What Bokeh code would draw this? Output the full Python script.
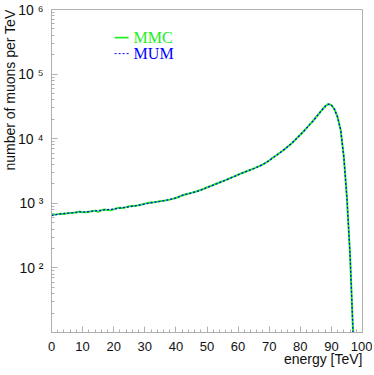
import math
from bokeh.plotting import figure
from bokeh.models import Label, FixedTicker, Title
from bokeh.embed import file_html
from bokeh.resources import INLINE

energy = list(range(0, 98))

mmc = [650, 668, 680, 690, 684, 700, 706, 712, 722, 748,
       726, 728, 738, 752, 770, 738, 782, 800, 788, 778,
       806, 842, 852, 846, 872, 900, 908, 912, 936, 960,
       988, 1012, 1030, 1042, 1060, 1085, 1098, 1115, 1140, 1170,
       1210, 1260, 1320, 1370, 1410, 1450, 1500, 1550, 1610, 1680,
       1760, 1840, 1920, 2010, 2100, 2190, 2290, 2400, 2520, 2640,
       2770, 2900, 3030, 3160, 3300, 3450, 3620, 3800, 4020, 4280,
       4600, 5000, 5400, 5850, 6350, 6900, 7550, 8300, 9200, 10300,
       11500, 12900, 14600, 16500, 18600, 21300, 24500, 28000, 31800, 34300,
       33200, 28500, 21500, 13500, 5200, 1200, 160, 9]

mum = [645, 660, 675, 688, 695, 698, 710, 718, 728, 735,
       730, 735, 745, 755, 762, 770, 778, 790, 800, 805,
       815, 830, 845, 858, 868, 885, 900, 918, 932, 950,
       975, 1000, 1020, 1040, 1058, 1075, 1095, 1118, 1145, 1175,
       1215, 1265, 1325, 1375, 1415, 1445, 1495, 1545, 1605, 1675,
       1755, 1835, 1915, 2005, 2095, 2185, 2285, 2395, 2515, 2635,
       2765, 2895, 3025, 3155, 3295, 3445, 3615, 3795, 4015, 4275,
       4595, 4995, 5395, 5845, 6345, 6895, 7545, 8295, 9195, 10295,
       11495, 12895, 14595, 16495, 18595, 21295, 24495, 27995, 31795, 34295,
       33195, 28495, 21495, 13495, 5195, 1195, 160, 9]

x_ticks = [0, 10, 20, 30, 40, 50, 60, 70, 80, 90, 100]
y_ticks = [10, 100, 1000, 10000, 100000, 1000000]
y_tick_labels = ["", "10 \u00b2", "10 \u00b3", "10 \u2074", "10 \u2075", "10 \u2076"]

GRAY = "#b0b0b0"
GREEN = "#22ee22"
BLUE = "#0000ff"

p = figure(width=372, height=372, x_range=(0, 100), y_range=(10, 1e6),
           y_axis_type="log", output_backend="svg", toolbar_location=None,
           min_border_left=51, min_border_right=10, min_border_top=9,
           min_border_bottom=40)
p.grid.visible = False
p.outline_line_color = GRAY
p.background_fill_color = "white"

p.line(energy, mmc, line_color=GREEN, line_width=2.0)
p.line(energy, mum, line_color=BLUE, line_width=1.3, line_dash="2 2")

xa = p.xaxis[0]
xa.ticker = FixedTicker(ticks=x_ticks, minor_ticks=list(range(0, 101, 2)))
xa.axis_line_color = GRAY
xa.major_tick_line_color = GRAY
xa.minor_tick_line_color = GRAY
xa.major_tick_in = 6
xa.major_tick_out = 0
xa.minor_tick_in = 3
xa.minor_tick_out = 0
xa.major_label_standoff = 9
xa.major_label_text_font = "Liberation Sans"
xa.major_label_text_font_size = "13px"
xa.major_label_text_color = "#111111"

ya = p.yaxis[0]
ya.axis_line_color = GRAY
ya.major_tick_line_color = GRAY
ya.minor_tick_line_color = GRAY
ya.major_tick_in = 6
ya.major_tick_out = 0
ya.minor_tick_in = 3
ya.minor_tick_out = 0
ya.major_label_standoff = 8
ya.major_label_text_font = "Liberation Sans"
ya.major_label_text_font_size = "14px"
ya.major_label_text_color = "#111111"
ya.major_label_overrides = {t: s for t, s in zip(y_ticks, y_tick_labels)}

# axis titles (right/top aligned as in the reference)
p.add_layout(Title(text="energy [TeV]", align="right", standoff=-9, offset=0,
                   text_font="Liberation Sans", text_font_size="14px",
                   text_font_style="normal", text_color="#111111"), "below")
p.add_layout(Title(text="number of muons per TeV", align="right", standoff=-4,
                   offset=0, text_font="Liberation Sans",
                   text_font_size="14px", text_font_style="normal",
                   text_color="#111111"), "left")

# legend
p.segment(x0=[20.3], y0=[10 ** 5.565], x1=[24.8], y1=[10 ** 5.565],
          line_color=GREEN, line_width=1.6)
p.segment(x0=[20.3], y0=[10 ** 5.317], x1=[24.8], y1=[10 ** 5.317],
          line_color=BLUE, line_width=1.0, line_dash="2 2")
p.add_layout(Label(x=26.4, y=10 ** 5.565, text="MMC", text_baseline="middle",
                   text_font="Liberation Serif", text_font_size="16px",
                   text_color=GREEN))
p.add_layout(Label(x=26.4, y=10 ** 5.317, text="MUM", text_baseline="middle",
                   text_font="Liberation Serif", text_font_size="16px",
                   text_color=BLUE))

open("out.html", "w").write(file_html(p, INLINE))
